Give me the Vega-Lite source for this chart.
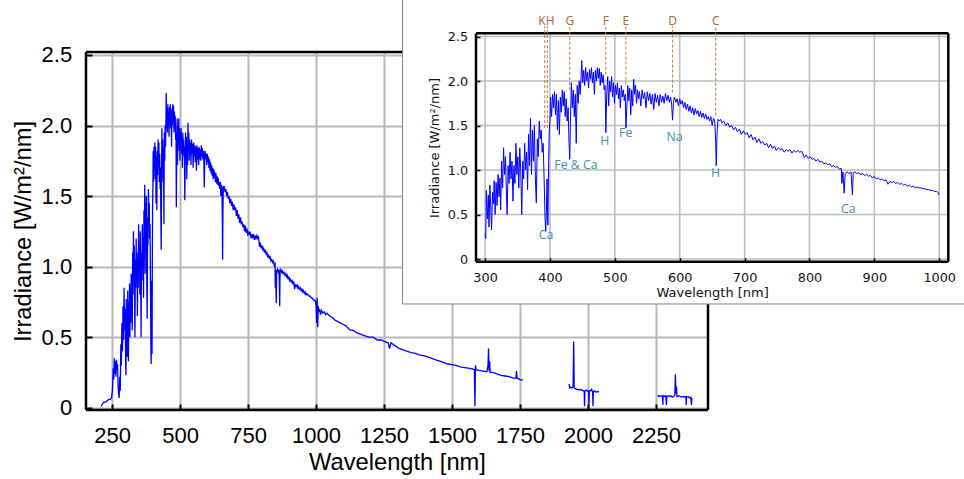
{
  "$schema": "https://vega.github.io/schema/vega-lite/v6.json",
  "autosize": {"type": "none"},
  "padding": {"left": 86, "top": 52, "right": 256, "bottom": 69},
  "width": 622,
  "height": 358,
  "background": "#ffffff",
  "view": {"stroke": null},
  "datasets": {
    "a": [
      {"w":210,"v":0.01},{"w":215,"v":0.03},{"w":220,"v":0.04},{"w":226,"v":0.04},{"w":232,"v":0.05},{"w":238,"v":0.06},{"w":244,"v":0.06},{"w":248,"v":0.07},{"w":251,"v":0.12},{"w":254,"v":0.28},{"w":256,"v":0.2},{"w":258,"v":0.35},{"w":260,"v":0.24},{"w":262,"v":0.33},{"w":264,"v":0.22},{"w":266,"v":0.34},{"w":268,"v":0.27},{"w":270,"v":0.31},{"w":272,"v":0.15},{"w":274,"v":0.1},{"w":276,"v":0.07},{"w":278,"v":0.22},{"w":280,"v":0.12},{"w":282,"v":0.45},{"w":284,"v":0.3},{"w":286,"v":0.6},{"w":288,"v":0.4},{"w":290,"v":0.72},{"w":292,"v":0.48},{"w":294,"v":0.85},{"w":296,"v":0.55},{"w":298,"v":0.7},
      {"w":300,"v":0.29},{"w":301,"v":0.23},{"w":302,"v":0.77},{"w":303.5,"v":0.45},{"w":305,"v":0.72},{"w":306,"v":0.36},{"w":307.5,"v":0.83},{"w":309,"v":0.52},{"w":310,"v":0.33},{"w":311.5,"v":0.75},{"w":313,"v":0.62},{"w":314,"v":0.88},{"w":315.5,"v":0.5},{"w":317,"v":0.86},{"w":318.5,"v":0.6},{"w":320,"v":0.95},{"w":321.5,"v":0.7},{"w":323,"v":0.91},{"w":324,"v":0.55},{"w":325.5,"v":1.1},{"w":327,"v":0.8},{"w":328.5,"v":1.25},{"w":330,"v":0.95},{"w":331.5,"v":1.15},{"w":333,"v":0.7},{"w":334,"v":0.5},{"w":335.5,"v":1.05},{"w":337,"v":0.85},{"w":338.5,"v":1.2},{"w":340,"v":0.9},{"w":341.5,"v":1.1},{"w":343,"v":0.65},{"w":344.5,"v":1.05},{"w":346,"v":0.85},{"w":347.5,"v":1.3},{"w":349,"v":0.95},{"w":350.5,"v":1.15},{"w":352,"v":0.8},{"w":353.5,"v":1.25},{"w":355,"v":0.98},{"w":356.5,"v":0.5},{"w":358,"v":1.1},{"w":359.5,"v":0.9},{"w":361,"v":1.3},{"w":362.5,"v":1.0},{"w":364,"v":1.2},{"w":365.5,"v":0.78},{"w":367,"v":1.4},{"w":368.5,"v":1.05},{"w":370,"v":1.58},{"w":371.5,"v":0.95},{"w":373,"v":1.45},{"w":374.5,"v":1.1},{"w":376,"v":1.5},{"w":377.5,"v":0.9},{"w":379,"v":0.63},{"w":380.5,"v":1.35},{"w":382,"v":1.15},{"w":383.5,"v":1.55},{"w":385,"v":1.35},{"w":386.5,"v":1.45},{"w":388,"v":1.2},{"w":389.5,"v":1.3},{"w":391,"v":0.9},{"w":392.5,"v":0.45},{"w":393.5,"v":0.31},{"w":394.5,"v":0.55},{"w":395.5,"v":0.9},{"w":396.8,"v":0.38},{"w":398,"v":1.1},{"w":399,"v":1.45},
      {"w":400,"v":1.55},{"w":401,"v":1.82},{"w":402.5,"v":1.6},{"w":404,"v":1.85},{"w":405.5,"v":1.7},{"w":407,"v":1.88},{"w":408.5,"v":1.62},{"w":410,"v":1.85},{"w":411.5,"v":1.45},{"w":413,"v":1.78},{"w":414.5,"v":1.4},{"w":416,"v":1.82},{"w":417.5,"v":1.65},{"w":419,"v":1.9},{"w":420.5,"v":1.72},{"w":422,"v":1.88},{"w":423.5,"v":1.6},{"w":425,"v":1.8},{"w":426.5,"v":1.55},{"w":428,"v":1.7},{"w":429,"v":1.4},{"w":430.5,"v":1.12},{"w":431.5,"v":1.5},{"w":433,"v":1.98},{"w":434.5,"v":1.7},{"w":436,"v":1.9},{"w":437.5,"v":1.6},{"w":439,"v":1.85},{"w":440.5,"v":1.3},{"w":442,"v":1.95},{"w":443.5,"v":1.75},{"w":445,"v":2.0},{"w":446.5,"v":1.85},{"w":448,"v":2.05},{"w":449,"v":2.23},{"w":450.5,"v":1.98},{"w":452,"v":2.12},{"w":453.5,"v":1.95},{"w":455,"v":2.15},{"w":456.5,"v":2.0},{"w":458,"v":2.1},{"w":459.5,"v":1.92},{"w":461,"v":2.13},{"w":462.5,"v":2.02},{"w":464,"v":2.15},{"w":465.5,"v":1.98},{"w":467,"v":2.1},{"w":468.5,"v":1.85},{"w":470,"v":2.12},{"w":471.5,"v":2.0},{"w":473,"v":2.15},{"w":474.5,"v":2.03},{"w":476,"v":2.14},{"w":477.5,"v":1.95},{"w":479,"v":2.1},{"w":480.5,"v":1.98},{"w":482,"v":2.07},{"w":483.5,"v":1.9},{"w":485,"v":1.95},{"w":486.1,"v":1.42},{"w":487.5,"v":1.85},{"w":489,"v":2.05},{"w":490.5,"v":1.72},{"w":492,"v":2.0},{"w":493.5,"v":1.88},{"w":495,"v":2.05},{"w":496.5,"v":1.82},{"w":498,"v":1.98},{"w":499.5,"v":1.75},
      {"w":501,"v":1.95},{"w":502.5,"v":1.85},{"w":504,"v":1.98},{"w":505.5,"v":1.8},{"w":507,"v":1.92},{"w":508.5,"v":1.7},{"w":510,"v":1.95},{"w":511.5,"v":1.82},{"w":513,"v":1.9},{"w":514.5,"v":1.78},{"w":516,"v":1.85},{"w":517.2,"v":1.47},{"w":518.5,"v":1.7},{"w":520,"v":1.95},{"w":521.5,"v":1.78},{"w":523,"v":1.92},{"w":524.5,"v":1.62},{"w":526,"v":1.9},{"w":527.5,"v":1.72},{"w":529,"v":2.02},{"w":530.5,"v":1.85},{"w":532,"v":1.95},{"w":533.5,"v":1.75},{"w":535,"v":1.9},{"w":536.5,"v":1.8},{"w":538,"v":1.88},{"w":540,"v":1.72},{"w":542,"v":1.9},{"w":544,"v":1.8},{"w":546,"v":1.87},{"w":548,"v":1.7},{"w":550,"v":1.88},{"w":552,"v":1.78},{"w":554,"v":1.86},{"w":556,"v":1.74},{"w":558,"v":1.85},{"w":560,"v":1.68},{"w":562,"v":1.86},{"w":564,"v":1.76},{"w":566,"v":1.84},{"w":568,"v":1.72},{"w":570,"v":1.85},{"w":572,"v":1.76},{"w":574,"v":1.83},{"w":576,"v":1.75},{"w":578,"v":1.86},{"w":580,"v":1.78},{"w":582,"v":1.84},{"w":584,"v":1.76},{"w":586,"v":1.82},{"w":587.5,"v":1.74},{"w":589,"v":1.56},{"w":590.5,"v":1.78},{"w":592,"v":1.82},{"w":594,"v":1.76},{"w":596,"v":1.8},{"w":598,"v":1.72},
      {"w":600,"v":1.8},{"w":602,"v":1.74},{"w":604,"v":1.78},{"w":606,"v":1.7},{"w":608,"v":1.76},{"w":610,"v":1.68},{"w":612,"v":1.74},{"w":614,"v":1.66},{"w":616,"v":1.72},{"w":618,"v":1.64},{"w":620,"v":1.7},{"w":622,"v":1.62},{"w":624,"v":1.69},{"w":626,"v":1.63},{"w":628,"v":1.67},{"w":630,"v":1.6},{"w":632,"v":1.66},{"w":634,"v":1.59},{"w":636,"v":1.64},{"w":638,"v":1.58},{"w":640,"v":1.63},{"w":642,"v":1.57},{"w":644,"v":1.6},{"w":646,"v":1.55},{"w":648,"v":1.6},{"w":650,"v":1.5},{"w":652,"v":1.58},{"w":654,"v":1.55},{"w":655.5,"v":1.3},{"w":656.3,"v":1.05},{"w":657.5,"v":1.4},{"w":659,"v":1.57},{"w":661,"v":1.55},{"w":663,"v":1.57},{"w":665,"v":1.53},{"w":668,"v":1.55},{"w":671,"v":1.5},{"w":674,"v":1.53},{"w":677,"v":1.48},{"w":680,"v":1.5},{"w":683,"v":1.45},{"w":686,"v":1.48},{"w":689,"v":1.43},{"w":692,"v":1.46},{"w":695,"v":1.4},{"w":698,"v":1.44},
      {"w":701,"v":1.4},{"w":704,"v":1.42},{"w":707,"v":1.36},{"w":710,"v":1.4},{"w":713,"v":1.34},{"w":716,"v":1.37},{"w":719,"v":1.31},{"w":722,"v":1.35},{"w":725,"v":1.3},{"w":728,"v":1.32},{"w":731,"v":1.28},{"w":734,"v":1.3},{"w":737,"v":1.25},{"w":740,"v":1.29},{"w":743,"v":1.24},{"w":746,"v":1.27},{"w":749,"v":1.22},{"w":752,"v":1.25},{"w":755,"v":1.23},{"w":758,"v":1.24},{"w":761,"v":1.2},{"w":764,"v":1.23},{"w":767,"v":1.21},{"w":770,"v":1.23},{"w":773,"v":1.19},{"w":776,"v":1.22},{"w":779,"v":1.2},{"w":782,"v":1.22},{"w":785,"v":1.2},{"w":788,"v":1.21},{"w":790,"v":1.18},{"w":792,"v":1.14},{"w":795,"v":1.17},{"w":798,"v":1.13},
      {"w":801,"v":1.15},{"w":804,"v":1.12},{"w":807,"v":1.13},{"w":810,"v":1.1},{"w":813,"v":1.12},{"w":816,"v":1.09},{"w":819,"v":1.1},{"w":822,"v":1.07},{"w":825,"v":1.08},{"w":828,"v":1.06},{"w":831,"v":1.07},{"w":834,"v":1.04},{"w":837,"v":1.05},{"w":840,"v":1.03},{"w":843,"v":1.04},{"w":846,"v":1.01},{"w":849,"v":1.02},{"w":850,"v":0.85},{"w":851.5,"v":0.98},{"w":853.5,"v":0.74},{"w":855,"v":0.96},{"w":858,"v":0.98},{"w":861,"v":0.96},{"w":864,"v":0.98},{"w":866.2,"v":0.72},{"w":867.5,"v":0.97},{"w":870,"v":0.98},{"w":873,"v":0.96},{"w":876,"v":0.97},{"w":879,"v":0.95},{"w":882,"v":0.96},{"w":885,"v":0.94},{"w":888,"v":0.95},{"w":891,"v":0.93},{"w":894,"v":0.94},{"w":897,"v":0.91},
      {"w":900,"v":0.93},{"w":903,"v":0.9},{"w":906,"v":0.91},{"w":909,"v":0.89},{"w":912,"v":0.9},{"w":915,"v":0.88},{"w":918,"v":0.89},{"w":921,"v":0.84},{"w":924,"v":0.87},{"w":927,"v":0.86},{"w":930,"v":0.87},{"w":933,"v":0.85},{"w":936,"v":0.86},{"w":939,"v":0.84},{"w":942,"v":0.85},{"w":945,"v":0.83},{"w":948,"v":0.84},{"w":951,"v":0.82},{"w":954,"v":0.83},{"w":957,"v":0.81},{"w":960,"v":0.82},{"w":963,"v":0.8},{"w":966,"v":0.81},{"w":969,"v":0.8},{"w":972,"v":0.8},{"w":975,"v":0.79},{"w":978,"v":0.79},{"w":981,"v":0.78},{"w":984,"v":0.78},{"w":987,"v":0.77},{"w":990,"v":0.77},{"w":993,"v":0.76},{"w":996,"v":0.76},{"w":998,"v":0.75},{"w":1000,"v":0.72},
      {"w":1002,"v":0.6},{"w":1004,"v":0.78},{"w":1006,"v":0.57},{"w":1008,"v":0.72},{"w":1010,"v":0.68},{"w":1013,"v":0.7},{"w":1016,"v":0.66},{"w":1020,"v":0.69},{"w":1025,"v":0.67},{"w":1030,"v":0.68},{"w":1035,"v":0.66},{"w":1040,"v":0.67},{"w":1050,"v":0.65},{"w":1060,"v":0.64},{"w":1070,"v":0.62},{"w":1080,"v":0.61},{"w":1090,"v":0.6},{"w":1100,"v":0.59},{"w":1110,"v":0.58},{"w":1120,"v":0.56},{"w":1126,"v":0.55},{"w":1135,"v":0.55},{"w":1150,"v":0.53},{"w":1165,"v":0.52},{"w":1180,"v":0.51},{"w":1195,"v":0.5},{"w":1210,"v":0.5},{"w":1225,"v":0.48},{"w":1240,"v":0.48},{"w":1250,"v":0.47},{"w":1265,"v":0.46},{"w":1270,"v":0.42},{"w":1275,"v":0.46},{"w":1290,"v":0.44},{"w":1305,"v":0.42},{"w":1320,"v":0.41},{"w":1335,"v":0.4},{"w":1350,"v":0.39},{"w":1365,"v":0.385},{"w":1380,"v":0.375},{"w":1395,"v":0.37},{"w":1410,"v":0.36},{"w":1425,"v":0.35},{"w":1440,"v":0.34},{"w":1455,"v":0.33},{"w":1470,"v":0.32},{"w":1485,"v":0.31},{"w":1500,"v":0.305},{"w":1515,"v":0.3},{"w":1530,"v":0.29},{"w":1545,"v":0.285},{"w":1560,"v":0.28},{"w":1575,"v":0.275},{"w":1582,"v":0.27},{"w":1584,"v":0.01},{"w":1586,"v":0.3},{"w":1588,"v":0.27},{"w":1600,"v":0.265},{"w":1615,"v":0.26},{"w":1628,"v":0.255},{"w":1632,"v":0.3},{"w":1634,"v":0.42},{"w":1636,"v":0.26},{"w":1638,"v":0.33},{"w":1640,"v":0.25},{"w":1650,"v":0.25},{"w":1665,"v":0.24},{"w":1680,"v":0.23},{"w":1695,"v":0.225},{"w":1710,"v":0.22},{"w":1725,"v":0.21},{"w":1735,"v":0.21},{"w":1737,"v":0.26},{"w":1739,"v":0.21},{"w":1750,"v":0.2},{"w":1761,"v":0.195}
    ],
    "b": [
      {"w":1930,"v":0.17},{"w":1933,"v":0.14},{"w":1937,"v":0.145},{"w":1941,"v":0.14},{"w":1945,"v":0.15},{"w":1947,"v":0.47},{"w":1949,"v":0.14},{"w":1953,"v":0.135},{"w":1958,"v":0.13},{"w":1963,"v":0.13},{"w":1968,"v":0.125},{"w":1973,"v":0.13},{"w":1978,"v":0.125},{"w":1983,"v":0.12},{"w":1986,"v":0.12},{"w":1987,"v":0.01},{"w":1988.5,"v":0.12},{"w":1993,"v":0.125},{"w":1998,"v":0.115},{"w":2002,"v":0.12},{"w":2003,"v":0.01},{"w":2004.5,"v":0.12},{"w":2009,"v":0.12},{"w":2013,"v":0.13},{"w":2017,"v":0.11},{"w":2018,"v":0.01},{"w":2019.5,"v":0.115},{"w":2024,"v":0.12},{"w":2029,"v":0.11},{"w":2034,"v":0.115},{"w":2040,"v":0.11}
    ],
    "c": [
      {"w":2256,"v":0.09},{"w":2260,"v":0.08},{"w":2265,"v":0.085},{"w":2270,"v":0.08},{"w":2274,"v":0.085},{"w":2275,"v":0.02},{"w":2276,"v":0.085},{"w":2280,"v":0.08},{"w":2286,"v":0.085},{"w":2288,"v":0.02},{"w":2290,"v":0.08},{"w":2295,"v":0.085},{"w":2300,"v":0.08},{"w":2305,"v":0.085},{"w":2310,"v":0.075},{"w":2315,"v":0.08},{"w":2319,"v":0.09},{"w":2321,"v":0.235},{"w":2323,"v":0.1},{"w":2325,"v":0.15},{"w":2327,"v":0.08},{"w":2332,"v":0.085},{"w":2338,"v":0.08},{"w":2344,"v":0.075},{"w":2350,"v":0.08},{"w":2355,"v":0.075},{"w":2360,"v":0.08},{"w":2361,"v":0.02},{"w":2362,"v":0.075},{"w":2368,"v":0.08},{"w":2373,"v":0.07},{"w":2378,"v":0.075},{"w":2380,"v":0.02},{"w":2382,"v":0.07}
    ],
    "fhLines": [
      {"f":"K","w":392,"v":1.47,"v2":2.62},
      {"f":"H","w":396,"v":1.47,"v2":2.62},
      {"f":"G","w":430.5,"v":1.9,"v2":2.62},
      {"f":"F","w":486,"v":2.07,"v2":2.62},
      {"f":"E","w":517,"v":1.96,"v2":2.62},
      {"f":"D","w":589,"v":1.87,"v2":2.62},
      {"f":"C","w":655.5,"v":1.61,"v2":2.62}
    ],
    "fhLabels": [
      {"t":"KH","w":394.5,"v":2.67},
      {"t":"G","w":430.5,"v":2.67},
      {"t":"F","w":486,"v":2.67},
      {"t":"E","w":517,"v":2.67},
      {"t":"D","w":589,"v":2.67},
      {"t":"C","w":655.5,"v":2.67}
    ],
    "elements": [
      {"t":"Ca","w":393.8,"v":0.27},
      {"t":"Fe & Ca","w":440,"v":1.06},
      {"t":"H","w":484.5,"v":1.33},
      {"t":"Fe","w":516.8,"v":1.42},
      {"t":"Na","w":592,"v":1.37},
      {"t":"H","w":655.2,"v":0.97},
      {"t":"Ca","w":859.9,"v":0.56}
    ],
    "gridX": [{"w":300},{"w":400},{"w":500},{"w":600},{"w":700},{"w":800},{"w":900},{"w":1000}],
    "gridY": [{"v":0},{"v":0.5},{"v":1.0},{"v":1.5},{"v":2.0},{"v":2.5}],
    "one": [{"k":1}]
  },
  "layer": [
    {
      "layer": [
        {
          "data": {"name": "a"},
          "mark": {"type": "line", "color": "#0000ff", "strokeWidth": 1.3},
          "encoding": {
            "x": {
              "field": "w", "type": "quantitative",
              "scale": {"domain": [154, 2441], "nice": false, "zero": false},
              "axis": {
                "orient": "bottom", "title": "Wavelength [nm]",
                "values": [250, 500, 750, 1000, 1250, 1500, 1750, 2000, 2250], "format": "d",
                "grid": true, "gridColor": "#b8b8b8", "gridWidth": 2,
                "domain": false,
                "ticks": true, "tickSize": -6, "tickColor": "#000000", "tickWidth": 2,
                "labelPadding": 21, "labelFont": "Liberation Sans", "labelFontSize": 22, "labelColor": "#000000",
                "titleFont": "Liberation Sans", "titleFontSize": 23.7, "titleFontWeight": "normal", "titleColor": "#000000",
                "titlePadding": 4.5, "zindex": 0
              }
            },
            "y": {
              "field": "v", "type": "quantitative",
              "scale": {"domain": [-0.016, 2.521], "nice": false, "zero": false},
              "axis": {
                "orient": "left", "title": "Irradiance [W/m²/nm]",
                "values": [0, 0.5, 1, 1.5, 2, 2.5],
                "labelExpr": "datum.value == 0 ? '0' : format(datum.value, '.1f')",
                "grid": true, "gridColor": "#b8b8b8", "gridWidth": 2,
                "domain": false,
                "ticks": true, "tickSize": -6, "tickColor": "#000000", "tickWidth": 2,
                "labelPadding": 20.3, "labelFont": "Liberation Sans", "labelFontSize": 22, "labelColor": "#000000",
                "titleFont": "Liberation Sans", "titleFontSize": 23.7, "titleFontWeight": "normal", "titleColor": "#000000",
                "titlePadding": 6, "zindex": 0
              }
            }
          }
        },
        {
          "data": {"name": "b"},
          "mark": {"type": "line", "color": "#0000ff", "strokeWidth": 1.3},
          "encoding": {"x": {"field": "w", "type": "quantitative"}, "y": {"field": "v", "type": "quantitative"}}
        },
        {
          "data": {"name": "c"},
          "mark": {"type": "line", "color": "#0000ff", "strokeWidth": 1.3},
          "encoding": {"x": {"field": "w", "type": "quantitative"}, "y": {"field": "v", "type": "quantitative"}}
        },
        {
          "data": {"name": "one"},
          "mark": {"type": "rule", "color": "#000000", "strokeWidth": 2.5},
          "encoding": {"x": {"datum": 154, "type": "quantitative"}, "x2": {"datum": 2441}, "y": {"datum": 2.521, "type": "quantitative"}}
        },
        {
          "data": {"name": "one"},
          "mark": {"type": "rule", "color": "#000000", "strokeWidth": 2.5},
          "encoding": {"x": {"datum": 154, "type": "quantitative"}, "x2": {"datum": 2441}, "y": {"datum": -0.016, "type": "quantitative"}}
        },
        {
          "data": {"name": "one"},
          "mark": {"type": "rule", "color": "#000000", "strokeWidth": 2.5},
          "encoding": {"x": {"datum": 154, "type": "quantitative"}, "y": {"datum": -0.016, "type": "quantitative"}, "y2": {"datum": 2.521}}
        },
        {
          "data": {"name": "one"},
          "mark": {"type": "rule", "color": "#000000", "strokeWidth": 2.5},
          "encoding": {"x": {"datum": 2441, "type": "quantitative"}, "y": {"datum": -0.016, "type": "quantitative"}, "y2": {"datum": 2.521}}
        }
      ]
    },
    {
      "layer": [
        {
          "data": {"name": "one"},
          "mark": {"type": "rect", "fill": "#ffffff", "stroke": "#808080", "strokeWidth": 1, "opacity": 1},
          "encoding": {
            "x": {"datum": 172.8, "type": "quantitative"},
            "x2": {"datum": 1250},
            "y": {"datum": -0.505, "type": "quantitative"},
            "y2": {"datum": 3.2}
          }
        },
        {
          "data": {"name": "gridX"},
          "mark": {"type": "rule", "color": "#bdbdbd", "strokeWidth": 1.6},
          "encoding": {
            "x": {"field": "w", "type": "quantitative"},
            "y": {"datum": -0.03, "type": "quantitative"},
            "y2": {"datum": 2.536}
          }
        },
        {
          "data": {"name": "gridY"},
          "mark": {"type": "rule", "color": "#bdbdbd", "strokeWidth": 1.6},
          "encoding": {
            "y": {"field": "v", "type": "quantitative"},
            "x": {"datum": 286, "type": "quantitative"},
            "x2": {"datum": 1014}
          }
        },
        {
          "data": {"name": "a"},
          "transform": [{"filter": "datum.w >= 300 && datum.w <= 1000"}],
          "mark": {"type": "line", "color": "#0000ff", "strokeWidth": 1},
          "encoding": {
            "x": {
              "field": "w", "type": "quantitative",
              "scale": {"domain": [286, 1014], "range": [390, 862.3], "nice": false, "zero": false},
              "axis": {
                "orient": "bottom", "offset": -148.3, "title": "Wavelength [nm]",
                "values": [300, 400, 500, 600, 700, 800, 900, 1000], "format": "d",
                "grid": false, "domain": false,
                "ticks": true, "tickSize": -4, "tickColor": "#000000", "tickWidth": 1.5,
                "labelPadding": 13.3, "labelFont": "DejaVu Sans", "labelFontSize": 12.8, "labelColor": "#111111",
                "titleFont": "DejaVu Sans", "titleFontSize": 13, "titleFontWeight": "normal", "titleColor": "#111111",
                "titlePadding": 3, "zindex": 2
              }
            },
            "y": {
              "field": "v", "type": "quantitative",
              "scale": {"domain": [-0.03, 2.536], "range": [209.7, -18.7], "nice": false, "zero": false},
              "axis": {
                "orient": "left", "offset": -390, "title": "Irradiance [W/m²/nm]",
                "values": [0, 0.5, 1, 1.5, 2, 2.5],
                "labelExpr": "datum.value == 0 ? '0' : format(datum.value, '.1f')",
                "grid": false, "domain": false,
                "ticks": true, "tickSize": -4, "tickColor": "#000000", "tickWidth": 1.5,
                "labelPadding": 12.4, "labelFont": "DejaVu Sans", "labelFontSize": 12.8, "labelColor": "#111111",
                "titleFont": "DejaVu Sans", "titleFontSize": 13, "titleFontWeight": "normal", "titleColor": "#111111",
                "titlePadding": 6, "zindex": 2
              }
            }
          }
        },
        {
          "data": {"name": "one"},
          "mark": {"type": "rule", "color": "#000000", "strokeWidth": 2.5},
          "encoding": {"x": {"datum": 286, "type": "quantitative"}, "x2": {"datum": 1014}, "y": {"datum": 2.536, "type": "quantitative"}}
        },
        {
          "data": {"name": "one"},
          "mark": {"type": "rule", "color": "#000000", "strokeWidth": 2.5},
          "encoding": {"x": {"datum": 286, "type": "quantitative"}, "x2": {"datum": 1014}, "y": {"datum": -0.03, "type": "quantitative"}}
        },
        {
          "data": {"name": "one"},
          "mark": {"type": "rule", "color": "#000000", "strokeWidth": 2.5},
          "encoding": {"x": {"datum": 286, "type": "quantitative"}, "y": {"datum": -0.03, "type": "quantitative"}, "y2": {"datum": 2.536}}
        },
        {
          "data": {"name": "one"},
          "mark": {"type": "rule", "color": "#000000", "strokeWidth": 2.5},
          "encoding": {"x": {"datum": 1014, "type": "quantitative"}, "y": {"datum": -0.03, "type": "quantitative"}, "y2": {"datum": 2.536}}
        },
        {
          "data": {"name": "fhLines"},
          "mark": {"type": "rule", "color": "#c07a3e", "strokeWidth": 1, "strokeDash": [3, 2]},
          "encoding": {
            "x": {"field": "w", "type": "quantitative"},
            "y": {"field": "v", "type": "quantitative"},
            "y2": {"field": "v2"}
          }
        },
        {
          "data": {"name": "fhLabels"},
          "mark": {"type": "text", "font": "Open Sans", "fontSize": 12, "color": "#b0652a", "baseline": "middle", "align": "center"},
          "encoding": {
            "x": {"field": "w", "type": "quantitative"},
            "y": {"field": "v", "type": "quantitative"},
            "text": {"field": "t"}
          }
        },
        {
          "data": {"name": "elements"},
          "mark": {"type": "text", "font": "Open Sans", "fontSize": 12.3, "color": "#3a8fb0", "baseline": "middle", "align": "center"},
          "encoding": {
            "x": {"field": "w", "type": "quantitative"},
            "y": {"field": "v", "type": "quantitative"},
            "text": {"field": "t"}
          }
        }
      ]
    }
  ],
  "resolve": {
    "scale": {"x": "independent", "y": "independent"},
    "axis": {"x": "independent", "y": "independent"}
  }
}
